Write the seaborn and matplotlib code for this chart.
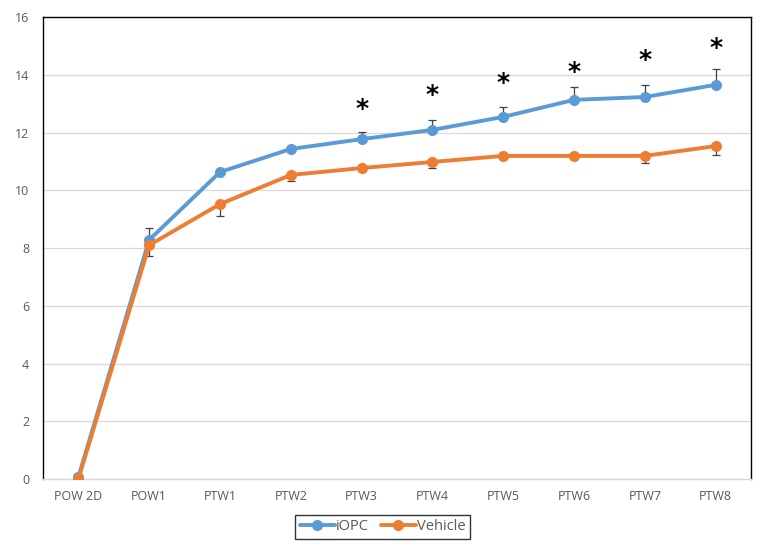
import matplotlib
matplotlib.use("Agg")
import matplotlib.pyplot as plt
import seaborn as sns
import pandas as pd
import numpy as np

categories = ["POW 2D", "POW1", "PTW1", "PTW2", "PTW3", "PTW4", "PTW5", "PTW6", "PTW7", "PTW8"]
iopc = [0.07, 8.28, 10.63, 11.43, 11.77, 12.09, 12.54, 13.13, 13.23, 13.65]
iopc_err = [0.0, 0.41, 0.08, 0.12, 0.25, 0.34, 0.34, 0.45, 0.40, 0.55]
vehicle = [0.0, 8.10, 9.52, 10.53, 10.77, 10.98, 11.19, 11.19, 11.19, 11.53]
vehicle_err = [0.0, 0.38, 0.42, 0.20, 0.12, 0.20, 0.10, 0.10, 0.24, 0.31]
star_cats = ["PTW3", "PTW4", "PTW5", "PTW6", "PTW7", "PTW8"]
star_y = [12.95, 13.44, 13.85, 14.23, 14.65, 15.06]

sns.set_theme(style="white")
plt.rcParams['font.family'] = ['Open Sans', 'DejaVu Sans']

blue = "#5B9BD5"
orange = "#ED7D31"

df = pd.DataFrame({
    "time": categories * 2,
    "value": iopc + vehicle,
    "group": ["iOPC"] * len(categories) + ["Vehicle"] * len(categories),
})

fig = plt.figure(figsize=(7.66, 5.52), dpi=100)
ax = fig.add_axes([0.0561, 0.1322, 0.9804 - 0.0561, 0.9692 - 0.1322])

xpos = np.arange(len(categories))
# error bars (one-sided: up for iOPC, down for Vehicle)
ax.errorbar(xpos, iopc, yerr=[np.zeros(len(iopc)), iopc_err], fmt="none",
            ecolor="#404040", elinewidth=0.9, capsize=3, capthick=0.9, zorder=2)
ax.errorbar(xpos, vehicle, yerr=[vehicle_err, np.zeros(len(vehicle))], fmt="none",
            ecolor="#404040", elinewidth=0.9, capsize=3, capthick=0.9, zorder=2)

sns.lineplot(data=df, x="time", y="value", hue="group", palette=[blue, orange],
             marker="o", markersize=8, linewidth=2.8, markeredgewidth=0,
             ax=ax, zorder=3, sort=False)

for c, y in zip(star_cats, star_y):
    ax.annotate("*", (categories.index(c), y), xytext=(0, -3), textcoords="offset points",
                ha="center", va="center", fontsize=18, fontweight="bold",
                color="black", family="DejaVu Sans")

ax.set_xlim(-0.5, len(categories) - 0.5)
ax.set_ylim(0, 16)
ax.set_yticks(np.arange(0, 17, 2))
ax.yaxis.grid(True, color="#D9D9D9", linewidth=0.9)
ax.set_axisbelow(True)
ax.set_xlabel("")
ax.set_ylabel("")
ax.tick_params(axis="both", length=0, labelsize=9, labelcolor="#595959")
ax.tick_params(axis="x", pad=8)
ax.tick_params(axis="y", pad=10)
for s in ["left", "top", "right"]:
    ax.spines[s].set_color("black")
    ax.spines[s].set_linewidth(1.0)
ax.spines["bottom"].set_color("#D9D9D9")
ax.spines["bottom"].set_linewidth(1.0)

leg = ax.legend(loc="upper center", bbox_to_anchor=(0.48, -0.078), ncol=2,
                frameon=True, fancybox=False, fontsize=10.5, handlelength=2.4,
                handletextpad=0.1, columnspacing=0.8, borderpad=0.3, borderaxespad=0)
leg.get_frame().set_edgecolor("black")
leg.get_frame().set_linewidth(1.0)
for t in leg.get_texts():
    t.set_color("#595959")

fig.savefig("out.png", dpi=100)
